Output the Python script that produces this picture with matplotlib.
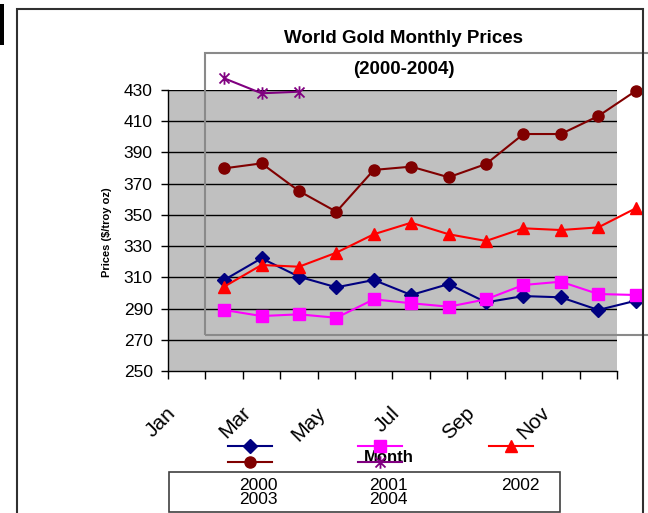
import numpy as np
import matplotlib.pyplot as plt
from matplotlib.lines import Line2D
from matplotlib.patches import Rectangle
from matplotlib.path import Path
from matplotlib.transforms import ScaledTranslation

plt.rcParams['font.family'] = ['Liberation Sans', 'DejaVu Sans']

months = ["Jan", "Feb", "Mar", "Apr", "May", "Jun",
          "Jul", "Aug", "Sep", "Oct", "Nov", "Dec"]
shown_months = ["Jan", "Mar", "May", "Jul", "Sep", "Nov"]
years = ["2000", "2001", "2002", "2003", "2004"]

# values as they sit on the chart's price axis
p2000 = [308.3, 322.2, 310.4, 303.6, 308.3, 298.7, 305.7, 294.0, 298.0, 297.2, 289.1, 295.0]
p2001 = [289.1, 285.2, 286.3, 284.1, 295.9, 293.4, 291.2, 295.9, 305.1, 307.2, 299.3, 298.7]
p2002 = [304.0, 317.9, 316.8, 325.8, 337.6, 345.0, 337.6, 333.3, 341.4, 340.3, 342.0, 354.2]
p2003 = [379.8, 383.0, 365.3, 352.0, 378.8, 380.9, 374.1, 382.6, 401.8, 401.8, 413.3, 429.4]
p2004 = [437.5, 427.9, 428.9]

yticks = list(range(250, 431, 20))

# asterisk marker like the spreadsheet one (vertical bar + X)
star = Path([(0, -1), (0, 1), (-0.8, -0.8), (0.8, 0.8), (-0.8, 0.8), (0.8, -0.8)],
            [Path.MOVETO, Path.LINETO, Path.MOVETO, Path.LINETO, Path.MOVETO, Path.LINETO])

styles = [
    dict(color="#000080", marker="D", ms=7),
    dict(color="#FF00FF", marker="s", ms=8),
    dict(color="#FF0000", marker="^", ms=9),
    dict(color="#800000", marker="o", ms=8),
    dict(color="#800080", marker=star, ms=9, mew=1.3),
]
series = [p2000, p2001, p2002, p2003, p2004]

W, H = 648, 513
fig = plt.figure(figsize=(W / 100, H / 100), dpi=100)


def fx(x):
    return x / W


def fy(y):
    return 1 - y / H


ax = fig.add_axes([fx(168), fy(371), (617 - 168) / W, (371 - 90) / H])
ax.set_facecolor("#C0C0C0")
ax.set_xlim(0, 12)
ax.set_ylim(250, 430)

for y in yticks[1:]:
    ax.axhline(y, color="black", lw=1, zorder=1)

# the series are drawn one category to the right, as in the original chart
for vals, st in zip(series, styles):
    x = np.arange(len(vals)) + 1.5
    ax.plot(x, vals, color=st["color"], lw=1.5, marker=st["marker"], ms=st["ms"],
            mfc=st["color"], mec=st["color"], mew=st.get("mew", 1), clip_on=False, zorder=3)

ax.set_yticks(yticks)
ax.tick_params(axis="y", direction="out", length=5, width=1, pad=6, labelsize=12.5)
ax.set_xticks(np.arange(13))
ax.set_xticklabels([])
ax.tick_params(axis="x", which="major", direction="out", length=6, width=1)
ax.set_xticks([months.index(m) + 0.5 for m in shown_months], minor=True)
ax.set_xticklabels(shown_months, minor=True, rotation=45, ha="right", va="center",
                   rotation_mode="anchor", fontsize=15)
ax.tick_params(axis="x", which="minor", length=0, pad=28)
shift = ScaledTranslation(-14 / 100, 0, fig.dpi_scale_trans)
for lbl in ax.get_xticklabels(minor=True):
    lbl.set_transform(lbl.get_transform() + shift)

for s in ["top", "right"]:
    ax.spines[s].set_visible(False)
ax.spines["left"].set_linewidth(1)
ax.spines["bottom"].set_linewidth(1)

ax.set_ylabel("Prices ($/troy oz)", fontsize=8, fontweight="bold")
ax.yaxis.set_label_coords((107 - 168) / 449, 0.495)
ax.yaxis.label.set_va("center")
ax.set_xlabel("Month", fontsize=12, fontweight="bold")
ax.xaxis.set_label_coords((389 - 168) / 449, (371 - 457) / 281)
ax.xaxis.label.set_va("center")

fig.text(fx(404), fy(39), "World Gold Monthly Prices", ha="center", va="center",
         fontsize=13.5, fontweight="bold")
fig.text(fx(404), fy(69), "(2000-2004)", ha="center", va="center",
         fontsize=13.5, fontweight="bold")

# stray frames of the original
fig.add_artist(Rectangle((fx(205), fy(335)), fx(700) - fx(205), fy(53) - fy(335),
                         transform=fig.transFigure, fill=False, ec="#8a8a8a", lw=1.5))
fig.add_artist(Rectangle((fx(17), fy(560)), fx(643) - fx(17), fy(9) - fy(560),
                         transform=fig.transFigure, fill=False, ec="#303030", lw=1.5))
fig.add_artist(Rectangle((0, fy(45)), fx(4), fy(4) - fy(45),
                         transform=fig.transFigure, fc="black", ec="none"))

# legend: keys above, names in a box below
key_x = [250, 380, 511, 250, 380]
key_y = [446, 446, 446, 462, 462]
txt_x = [258, 388, 520, 258, 388]
txt_y = [485, 485, 485, 499, 499]
for yr, st, kx, ky, tx, ty in zip(years, styles, key_x, key_y, txt_x, txt_y):
    fig.add_artist(Line2D([fx(kx - 22), fx(kx + 22)], [fy(ky), fy(ky)],
                          transform=fig.transFigure, color=st["color"], lw=1.5))
    fig.add_artist(Line2D([fx(kx)], [fy(ky)], transform=fig.transFigure,
                          marker=st["marker"], ms=st["ms"], mfc=st["color"],
                          mec=st["color"], mew=st.get("mew", 1), lw=0))
    fig.text(fx(tx), fy(ty), yr, ha="center", va="center", fontsize=12.5)
fig.add_artist(Rectangle((fx(169), fy(512)), fx(560) - fx(169), fy(472) - fy(512),
                         transform=fig.transFigure, fill=False, ec="#404040", lw=1.2))

fig.savefig("out.png", dpi=100)
